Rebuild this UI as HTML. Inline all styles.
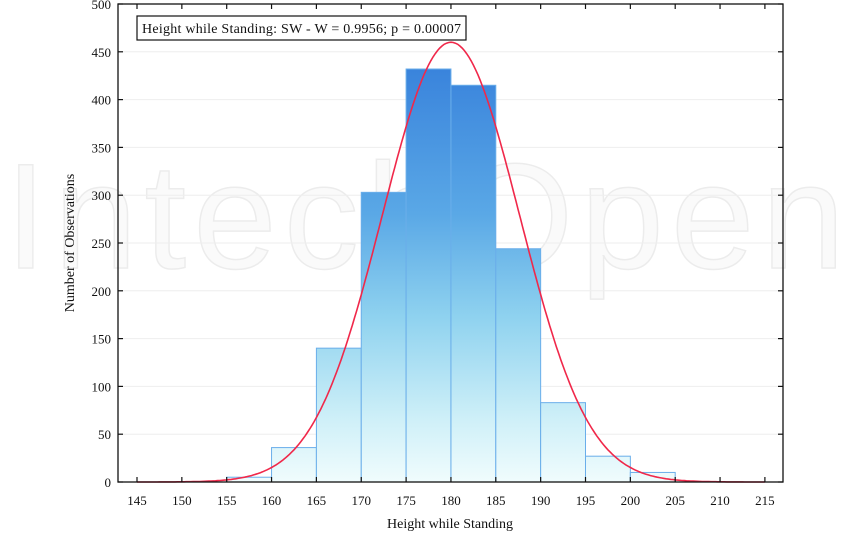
<!DOCTYPE html>
<html><head><meta charset="utf-8"><style>
html,body{margin:0;padding:0;background:#fff;}
svg text{font-family:"Liberation Serif",serif;fill:#111;}
</style></head><body>
<svg id="s" width="850" height="536" xmlns="http://www.w3.org/2000/svg">
<defs>
<linearGradient id="g" gradientUnits="userSpaceOnUse" x1="0" y1="70" x2="0" y2="482">
<stop offset="0" stop-color="#3a84dc"/>
<stop offset="0.35" stop-color="#5aa8e6"/>
<stop offset="0.6" stop-color="#8fd2ef"/>
<stop offset="0.85" stop-color="#cff0f8"/>
<stop offset="1" stop-color="#f0fcfd"/>
</linearGradient>
</defs>
<text x="425" y="268" font-size="150" text-anchor="middle" style="fill:#fafafa;stroke:#ececec;stroke-width:1.5;font-family:'Liberation Sans',sans-serif" textLength="840">IntechOpen</text>
<g id="grid"></g>
<g id="bars"></g>
<path id="curve" fill="none" stroke="#f0284a" stroke-width="1.6"/>
<rect x="118" y="4" width="665" height="478" fill="none" stroke="#111" stroke-width="1.3"/>
<g id="ticks" stroke="#111" stroke-width="1.2"></g>
<g id="labels" font-size="13"></g>
<rect x="137" y="16" width="329" height="24" fill="#fff" stroke="#111" stroke-width="1.2"/>
<text x="142" y="33" font-size="14" textLength="319">Height while Standing: SW - W = 0.9956; p = 0.00007</text>
<text x="450" y="528" font-size="14" text-anchor="middle">Height while Standing</text>
<text x="74" y="243" font-size="14" text-anchor="middle" transform="rotate(-90 74 243)">Number of Observations</text>
</svg>
<script>
var NS="http://www.w3.org/2000/svg";
function X(v){return 137+(v-145)*8.97;}
function Y(c){return 482-c*0.956;}
function el(p,t,a){var e=document.createElementNS(NS,t);for(var k in a)e.setAttribute(k,a[k]);document.getElementById(p).appendChild(e);return e;}
for(var c=50;c<500;c+=50){el("grid","line",{x1:118,x2:783,y1:Y(c),y2:Y(c),stroke:"#eeeeee","stroke-width":1});}
var d=[[155,5],[160,36],[165,140],[170,303],[175,432],[180,415],[185,244],[190,83],[195,27],[200,10]];
d.forEach(function(b){el("bars","rect",{x:X(b[0]),y:Y(b[1]),width:X(b[0]+5)-X(b[0]),height:482-Y(b[1]),fill:"url(#g)",stroke:"#6aaeea","stroke-width":1});});
var p="";for(var v=145;v<=215;v+=0.25){var c=460*Math.exp(-Math.pow(v-180,2)/(2*58.6));p+=(v==145?"M":"L")+X(v).toFixed(1)+","+Y(c).toFixed(1);}
document.getElementById("curve").setAttribute("d",p);
for(var v=145;v<=215;v+=5){var x=X(v);el("ticks","line",{x1:x,x2:x,y1:482,y2:477});el("ticks","line",{x1:x,x2:x,y1:4,y2:9});
var t=el("labels","text",{x:x,y:505,"text-anchor":"middle"});t.textContent=v;}
for(var c=0;c<=500;c+=50){var y=Y(c);el("ticks","line",{x1:118,x2:123,y1:y,y2:y});el("ticks","line",{x1:783,x2:778,y1:y,y2:y});
var t=el("labels","text",{x:111,y:y+5,"text-anchor":"end"});t.textContent=c;}
</script>
</body></html>
